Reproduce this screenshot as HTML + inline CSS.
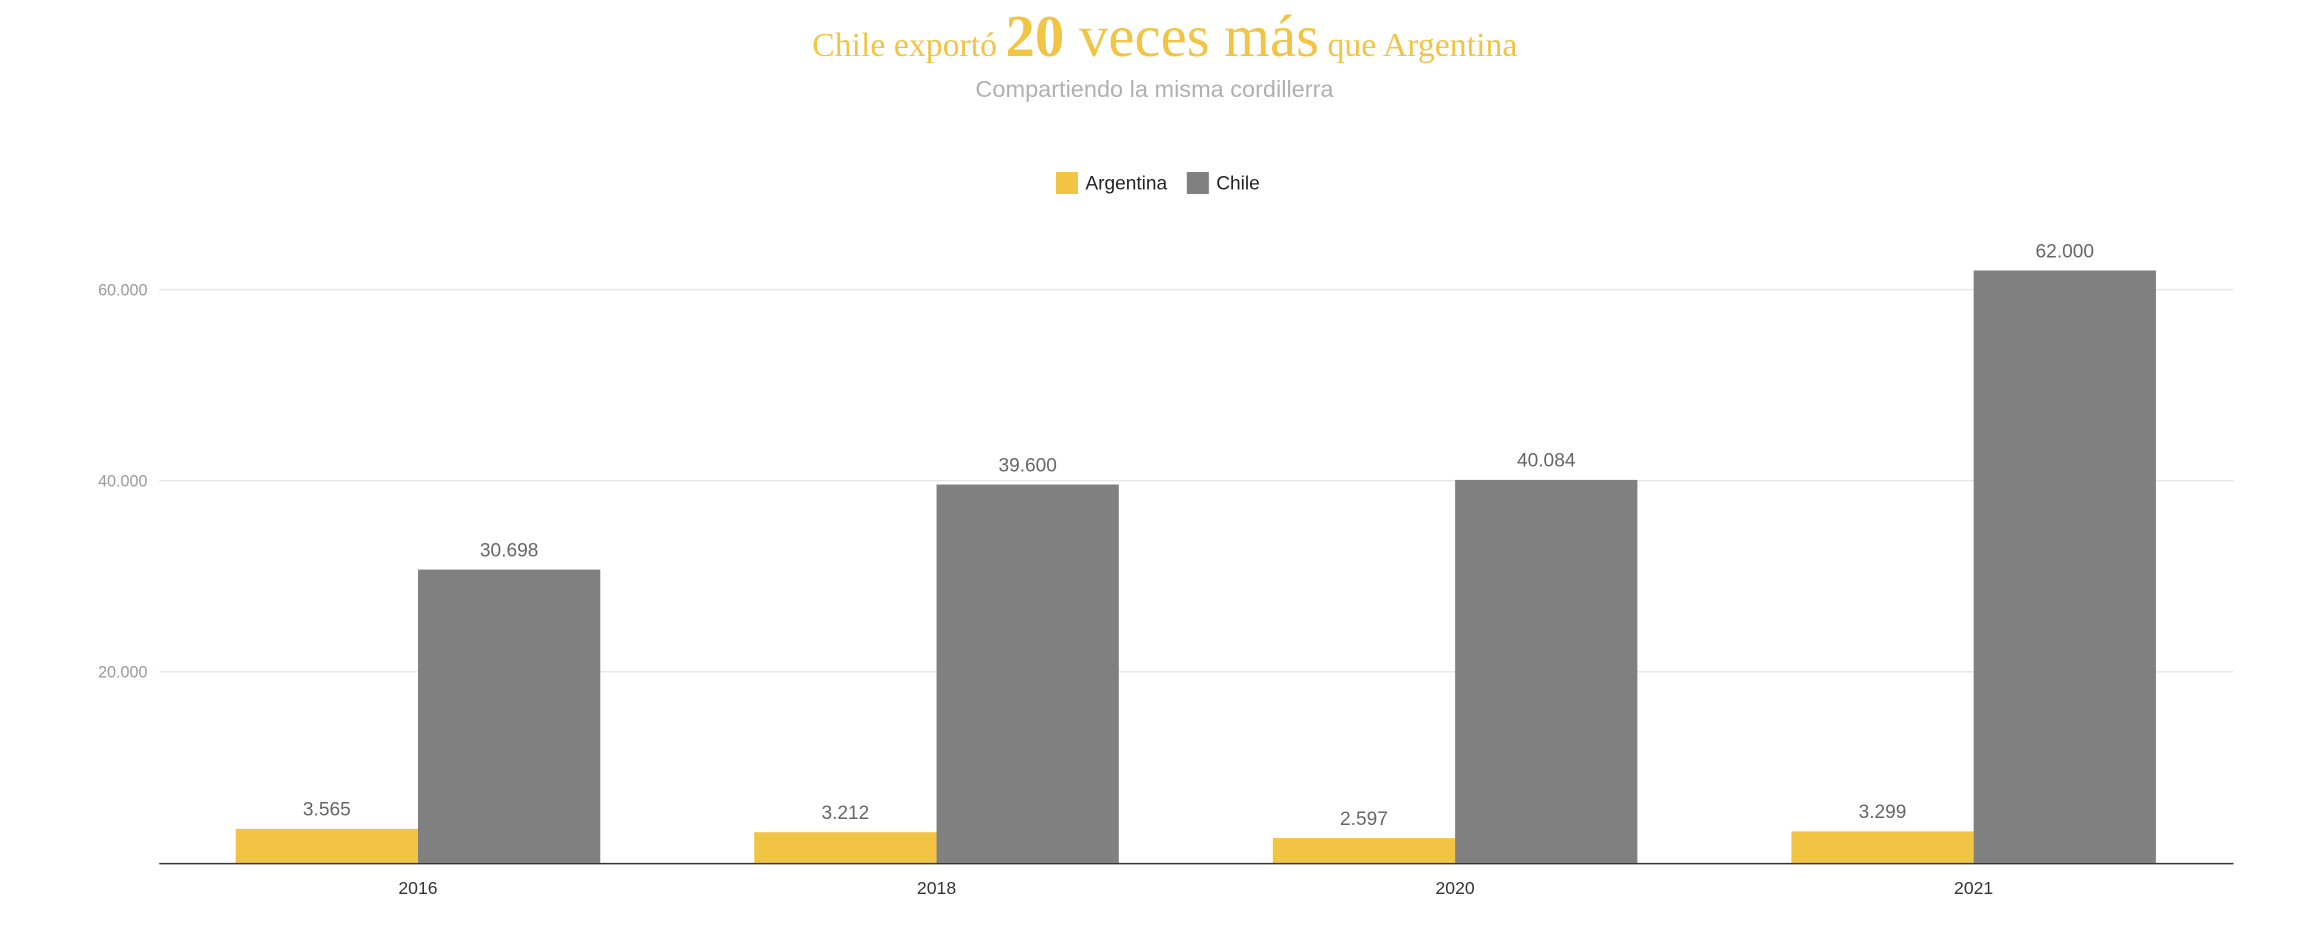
<!DOCTYPE html>
<html><head><meta charset="utf-8"><style>
html,body{margin:0;padding:0;background:#fff}
svg{display:block}
</style></head><body>
<svg id="chart" width="2306" height="932" viewBox="0 0 1568 634" xmlns="http://www.w3.org/2000/svg">
<text x="792" y="38" text-anchor="middle" fill="#f2c443" font-family="Liberation Serif, serif"><tspan font-size="23">Chile exportó </tspan><tspan font-size="40" font-weight="bold">20</tspan><tspan font-size="40"> veces más</tspan><tspan font-size="23"> que Argentina</tspan></text>
<text x="785" y="66" text-anchor="middle" fill="#b0b0b0" font-size="16" font-family="Liberation Sans, sans-serif">Compartiendo la misma cordillerra</text>
<g font-family="Liberation Sans, sans-serif" font-size="13">
<rect x="718" y="117" width="15" height="15" fill="#f2c443"/>
<text x="738" y="129" fill="#222">Argentina</text>
<rect x="807" y="117" width="15" height="15" fill="#808080"/>
<text x="827" y="129" fill="#222">Chile</text>
</g>
<g id="grid"></g><g id="bars"></g><g id="labels"></g>
</svg>
<script>
const categories = ["2016","2018","2020","2021"];
const argentina = [3565, 3212, 2597, 3299];
const chile = [30698, 39600, 40084, 62000];
const yTicks = [20000, 40000, 60000];
const yTickLabels = ["20.000","40.000","60.000"];
const NS="http://www.w3.org/2000/svg";
const x0=108,x1=1519,yBase=587,pxPer=130/20000;
const band=(x1-x0)/categories.length;
function y(v){return yBase-v*pxPer;}
function xc(i){return x0+band*(i+0.5)-(band*0.5-176)+0;}
function mk(tag,attrs,parent){const e=document.createElementNS(NS,tag);for(const k in attrs)e.setAttribute(k,attrs[k]);parent.appendChild(e);return e;}
function fmt(v){return v.toString().replace(/\B(?=(\d{3})+(?!\d))/g,".");}
const grid=document.getElementById('grid'),bars=document.getElementById('bars'),labels=document.getElementById('labels');
yTicks.forEach((t,i)=>{
  const l=mk('line',{x1:x0,x2:x1,y1:y(t),y2:y(t),stroke:'#e6e6e6','stroke-width':1},grid);
  
  
  const tx=mk('text',{x:100,y:y(t)+4,'text-anchor':'end',fill:'#999','font-size':11,'font-family':'Liberation Sans, sans-serif'},grid);
  tx.textContent=yTickLabels[i];
  
  
});
const bw=124;
categories.forEach((c,i)=>{
  const cx=x0+band*i+176;
  const a=mk('rect',{x:cx-bw,y:y(argentina[i]),width:bw,height:argentina[i]*pxPer,fill:'#f2c443'},bars);
  
  
  const b=mk('rect',{x:cx,y:y(chile[i]),width:bw,height:chile[i]*pxPer,fill:'#808080'},bars);
  
  
  const la=mk('text',{x:cx-bw/2,y:y(argentina[i])-9,'text-anchor':'middle',fill:'#666','font-size':13,'font-family':'Liberation Sans, sans-serif'},labels);
  la.textContent=fmt(argentina[i]);
  
  
  const lb=mk('text',{x:cx+bw/2,y:y(chile[i])-9,'text-anchor':'middle',fill:'#666','font-size':13,'font-family':'Liberation Sans, sans-serif'},labels);
  lb.textContent=fmt(chile[i]);
  
  
  const xl=mk('text',{x:cx,y:608,'text-anchor':'middle',fill:'#333','font-size':12,'font-family':'Liberation Sans, sans-serif'},labels);
  xl.textContent=c;
  
  
});
const ax=mk('line',{x1:x0,x2:x1,y1:yBase+0.5,y2:yBase+0.5,stroke:'#333','stroke-width':1},labels);


</script>
</body></html>
